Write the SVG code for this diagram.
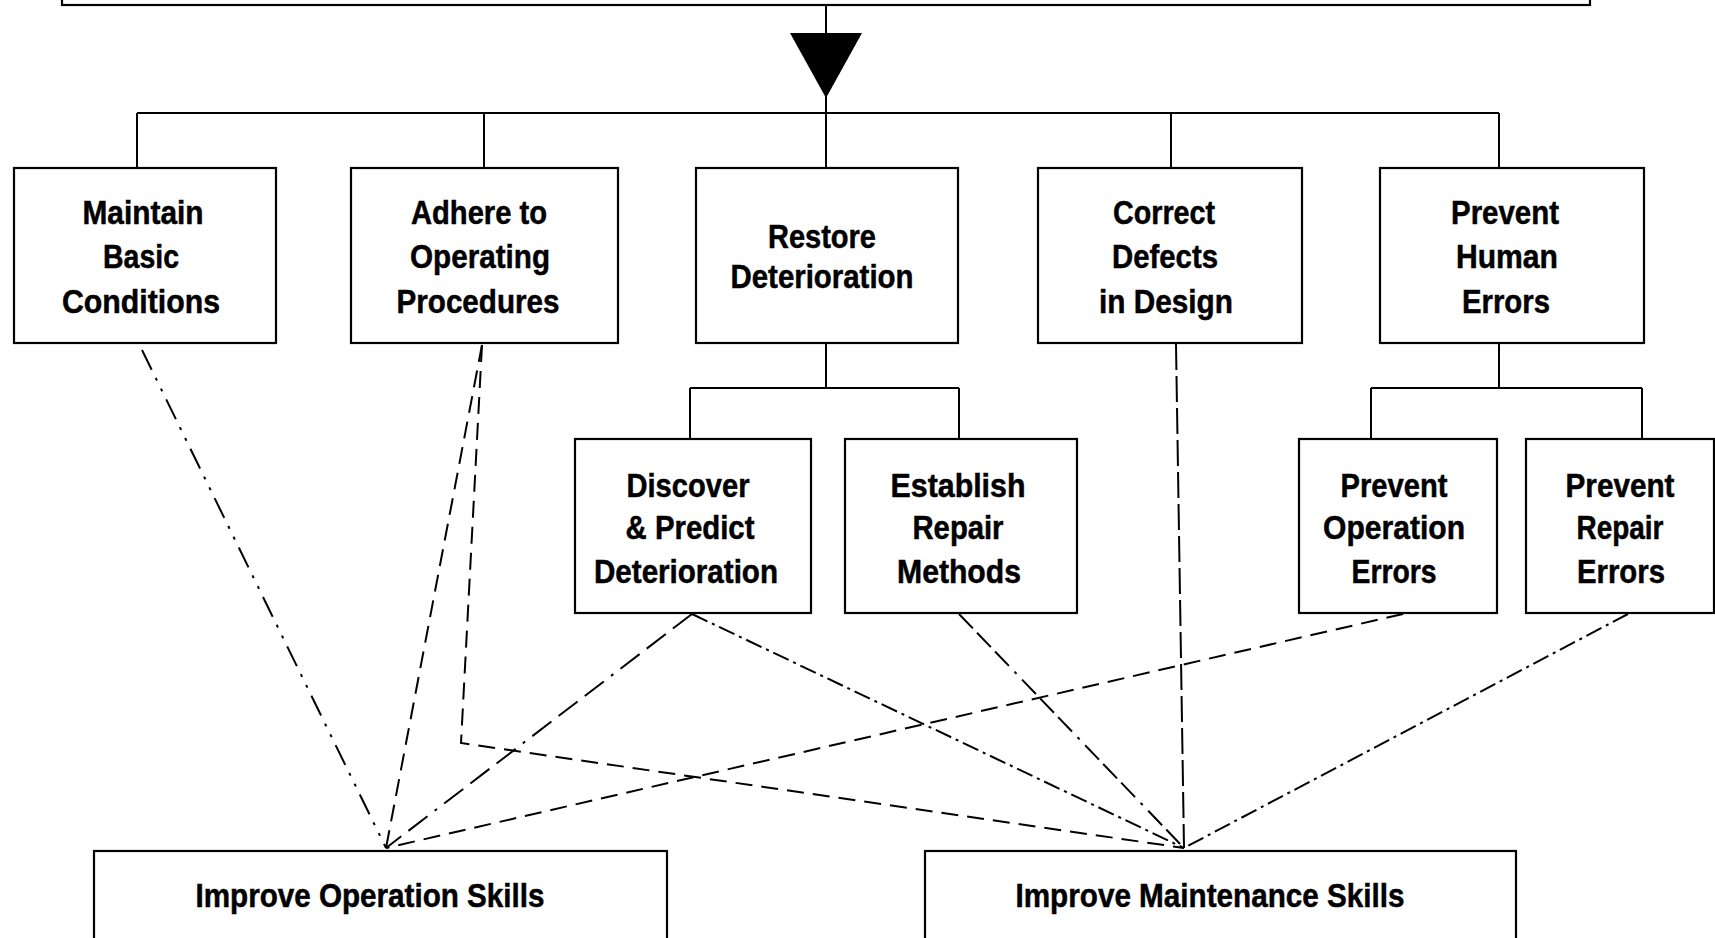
<svg xmlns="http://www.w3.org/2000/svg" width="1715" height="938" viewBox="0 0 1715 938">
<style>
.box{fill:#fff;stroke:#000;stroke-width:2.2}
.ln{fill:none;stroke:#000;stroke-width:2}
.t{font-family:"Liberation Sans",Arial,sans-serif;font-weight:bold;font-size:33.5px;text-anchor:middle;fill:#000;stroke:#000;stroke-width:0.5}
.d{fill:none;stroke:#000;stroke-width:2}
.dash{stroke-dasharray:17,9}
.ldash{stroke-dasharray:24,9,24,9,24,9,3,9}
.dd{stroke-dasharray:17,5,3,5}
.ddd{stroke-dasharray:22,9,3,9,3,9}
.ldd{stroke-dasharray:20,6,20,6,20,8,3,8}
.vd{stroke-dasharray:26,6}
</style>
<rect width="1715" height="938" fill="#fff"/>
<g id="top"><rect class="box" x="62" y="-40" width="1528" height="45"/></g>
<g id="tree">
<path class="ln" d="M826 5V168M137 113H1499M137 113V168M484 113V168M1171 113V168M1499 113V168"/>
<polygon points="790,33 862,33 826,98" fill="#000"/>
<path class="ln" d="M826 343V388M690 388H959M690 388V439M959 388V439"/>
<path class="ln" d="M1499 343V388M1371 388H1642M1371 388V439M1642 388V439"/>
</g>
<g id="connectors">
<path class="d ddd" d="M142 350L386 848"/>
<path class="d dash" d="M482 345L386 848"/>
<path class="d dash" d="M482 345L461 743L1184 848"/>
<path class="d ldash" d="M692 614L386 848"/>
<path class="d dd" d="M692 614L1184 848"/>
<path class="d ldd" d="M959 614L1184 848"/>
<path class="d vd" d="M1176 344L1184 848"/>
<path class="d dash" d="M1403 614L386 848"/>
<path class="d dd" d="M1628 614L1184 848"/>
</g>
<g id="n-maintain"><rect class="box" x="14" y="168" width="262" height="175"/>
<text class="t" x="143" y="224" textLength="121" lengthAdjust="spacingAndGlyphs">Maintain</text>
<text class="t" x="141" y="268" textLength="76" lengthAdjust="spacingAndGlyphs">Basic</text>
<text class="t" x="141" y="313" textLength="158" lengthAdjust="spacingAndGlyphs">Conditions</text></g>
<g id="n-adhere"><rect class="box" x="351" y="168" width="267" height="175"/>
<text class="t" x="479" y="224" textLength="136" lengthAdjust="spacingAndGlyphs">Adhere to</text>
<text class="t" x="480" y="268" textLength="140" lengthAdjust="spacingAndGlyphs">Operating</text>
<text class="t" x="478" y="313" textLength="163" lengthAdjust="spacingAndGlyphs">Procedures</text></g>
<g id="n-restore"><rect class="box" x="696" y="168" width="262" height="175"/>
<text class="t" x="822" y="248" textLength="108" lengthAdjust="spacingAndGlyphs">Restore</text>
<text class="t" x="822" y="288" textLength="183" lengthAdjust="spacingAndGlyphs">Deterioration</text></g>
<g id="n-correct"><rect class="box" x="1038" y="168" width="264" height="175"/>
<text class="t" x="1164" y="224" textLength="102" lengthAdjust="spacingAndGlyphs">Correct</text>
<text class="t" x="1165" y="268" textLength="106" lengthAdjust="spacingAndGlyphs">Defects</text>
<text class="t" x="1166" y="313" textLength="134" lengthAdjust="spacingAndGlyphs">in Design</text></g>
<g id="n-human"><rect class="box" x="1380" y="168" width="264" height="175"/>
<text class="t" x="1505" y="224" textLength="108" lengthAdjust="spacingAndGlyphs">Prevent</text>
<text class="t" x="1507" y="268" textLength="102" lengthAdjust="spacingAndGlyphs">Human</text>
<text class="t" x="1506" y="313" textLength="88" lengthAdjust="spacingAndGlyphs">Errors</text></g>
<g id="n-discover"><rect class="box" x="575" y="439" width="236" height="174"/>
<text class="t" x="688" y="497" textLength="123" lengthAdjust="spacingAndGlyphs">Discover</text>
<text class="t" x="690" y="539" textLength="129" lengthAdjust="spacingAndGlyphs">&amp; Predict</text>
<text class="t" x="686" y="583" textLength="184" lengthAdjust="spacingAndGlyphs">Deterioration</text></g>
<g id="n-establish"><rect class="box" x="845" y="439" width="232" height="174"/>
<text class="t" x="958" y="497" textLength="135" lengthAdjust="spacingAndGlyphs">Establish</text>
<text class="t" x="958" y="539" textLength="91" lengthAdjust="spacingAndGlyphs">Repair</text>
<text class="t" x="959" y="583" textLength="124" lengthAdjust="spacingAndGlyphs">Methods</text></g>
<g id="n-operr"><rect class="box" x="1299" y="439" width="198" height="174"/>
<text class="t" x="1394" y="497" textLength="107" lengthAdjust="spacingAndGlyphs">Prevent</text>
<text class="t" x="1394" y="539" textLength="142" lengthAdjust="spacingAndGlyphs">Operation</text>
<text class="t" x="1394" y="583" textLength="85" lengthAdjust="spacingAndGlyphs">Errors</text></g>
<g id="n-reperr"><rect class="box" x="1526" y="439" width="188" height="174"/>
<text class="t" x="1620" y="497" textLength="109" lengthAdjust="spacingAndGlyphs">Prevent</text>
<text class="t" x="1620" y="539" textLength="87" lengthAdjust="spacingAndGlyphs">Repair</text>
<text class="t" x="1621" y="583" textLength="88" lengthAdjust="spacingAndGlyphs">Errors</text></g>
<g id="n-opskills"><rect class="box" x="94" y="851" width="573" height="120"/>
<text class="t" x="370" y="907" textLength="349" lengthAdjust="spacingAndGlyphs">Improve Operation Skills</text></g>
<g id="n-mtskills"><rect class="box" x="925" y="851" width="591" height="120"/>
<text class="t" x="1210" y="907" textLength="389" lengthAdjust="spacingAndGlyphs">Improve Maintenance Skills</text></g>
</svg>
